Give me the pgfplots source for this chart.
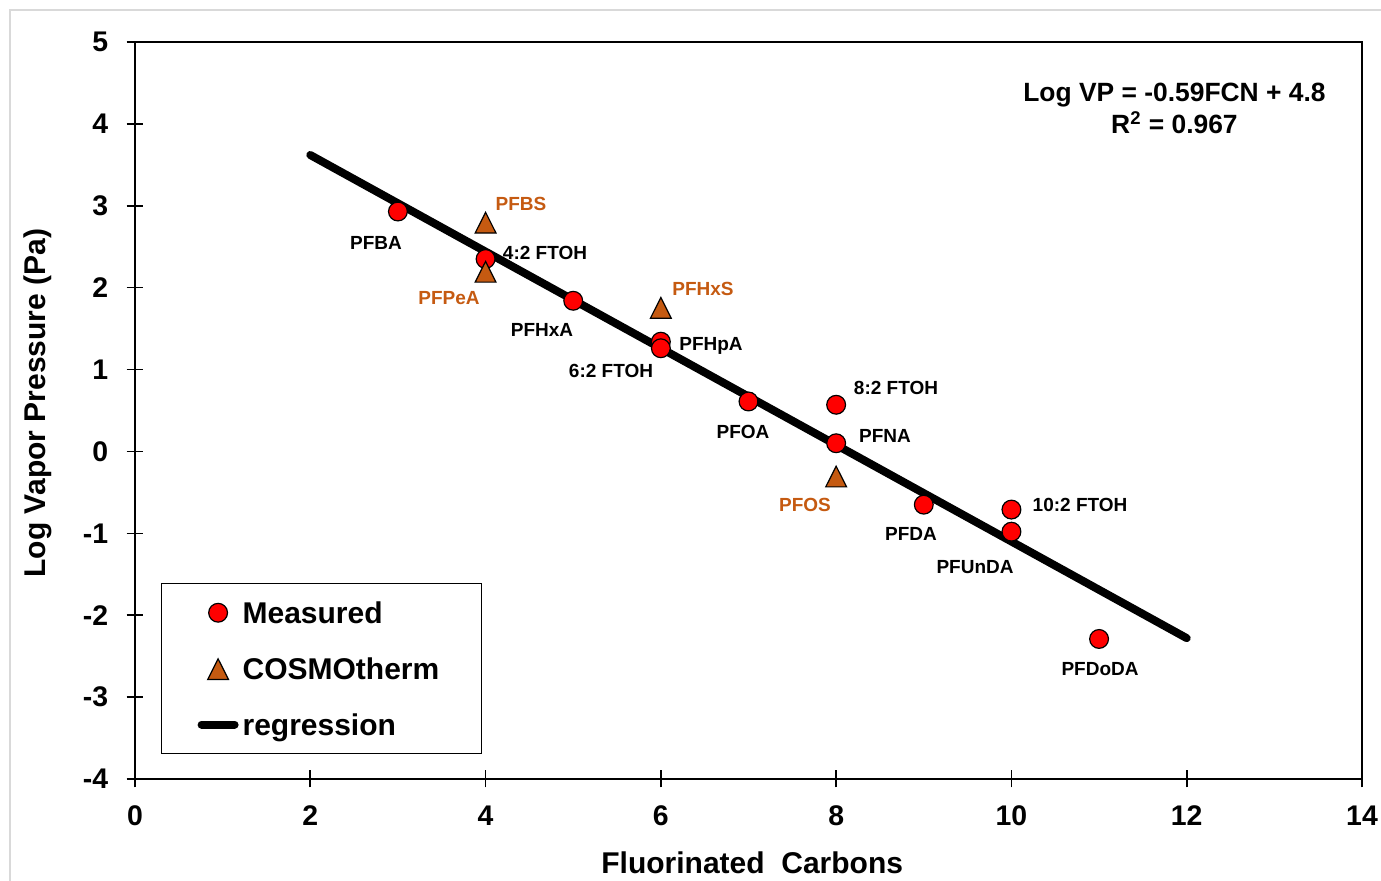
\documentclass[border=0pt]{standalone}
\usepackage{pgfplots}
\pgfplotsset{compat=1.18}
\usepackage{fontspec}
\setmainfont{Liberation Sans}
\definecolor{cosmo}{RGB}{197,90,17}
\definecolor{mred}{RGB}{255,0,0}
\tikzset{
  lab/.style={font=\fontsize{9.5}{11}\selectfont\bfseries, inner sep=0pt, text height=6.8pt, text depth=0pt, anchor=center},
  eqn/.style={font=\fontsize{13.2}{16}\selectfont\bfseries, inner sep=0pt, text height=9.45pt, text depth=0pt, anchor=center},
}
\pgfplotsset{
  marklegend/.style={legend image code/.code={\path[draw=none,fill=none] (0pt,0pt) -- (20.5pt,0pt);
    \draw[mark repeat=2,mark phase=2,##1] plot coordinates {(0pt,0pt) (10.25pt,0pt) (20.5pt,0pt)};}},
  linelegend/.style={legend image code/.code={\draw[##1] (2pt,0pt) -- (18.5pt,0pt);}},
}

\begin{document}
\begin{tikzpicture}
\useasboundingbox (0,0) rectangle (690.5pt,440.5pt);
\draw[black!15, line width=1pt] (5pt,0) -- (5pt,435.5pt) -- (690.5pt,435.5pt);
\begin{axis}[
  at={(67.5pt,51pt)}, anchor=south west,
  scale only axis, width=613.5pt, height=368.5pt,
  xmin=0, xmax=14, ymin=-4, ymax=5,
  xtick={0,2,...,14}, ytick={-4,-3,...,5},
  tick pos=left, tick align=center, major tick length=8.5pt,
  axis line style={line width=0.8pt, black},
  every tick/.style={black, line width=0.8pt},
  /pgf/number format/assume math mode=true,
  tick label style={font=\fontsize{14.2}{17}\selectfont\bfseries},
  xticklabel style={inner sep=0pt, anchor=north, yshift=-9pt},
  yticklabel style={inner sep=0pt, anchor=east, xshift=-9pt},
  every axis x label/.style={at={(axis description cs:0.503,0)}, anchor=base, yshift=-47.5pt, font=\fontsize{15}{18}\selectfont\bfseries},
  every axis y label/.style={at={(axis description cs:-0.0733,0.51)}, rotate=90, anchor=base, font=\fontsize{15}{18}\selectfont\bfseries},
  xlabel={Fluorinated\ \ Carbons},
  ylabel={Log Vapor Pressure (Pa)},
  legend style={
    at={(0.0212,0.266)}, anchor=north west,
    draw=black, line width=0.6pt, fill=white,
    font=\fontsize{15}{18}\selectfont\bfseries,
    inner xsep=18pt, inner ysep=9pt,
    row sep=16.75pt, column sep=2pt,
    nodes={inner sep=0pt, text height=11pt, text depth=0.2pt},
  },
  legend cell align=left,
  clip=false,
]
% regression line (drawn first, below markers)
\addplot[forget plot, black, line width=4pt, line cap=round] coordinates {(2,3.62) (12,-2.28)};

% measured
\addplot[only marks, mark=*, mark size=4.7pt,
  mark options={draw=black, fill=mred, line width=0.6pt}, marklegend]
coordinates {
(3,2.93) (4,2.35) (5,1.84) (6,1.34) (6,1.26) (7,0.61) (8,0.57) (8,0.10)
(9,-0.65) (10,-0.71) (10,-0.98) (11,-2.29)
};
\addlegendentry{Measured}

% COSMOtherm
\addplot[only marks, mark=triangle*, mark size=6pt,
  mark options={draw=black, fill=cosmo, line width=0.6pt, yscale=1.15, yshift=-1.725pt}, marklegend]
coordinates {
(4,2.80) (4,2.20) (6,1.76) (8,-0.30)
};
\addlegendentry{COSMOtherm\rule{3.2pt}{0pt}}

\addlegendimage{black, line width=4pt, line cap=round, linelegend}
\addlegendentry{regression}

% point labels
\node[lab] at (axis cs:2.750,2.545) {PFBA};
\node[lab, text=cosmo] at (axis cs:4.404,3.022) {PFBS};
\node[lab] at (axis cs:4.678,2.423) {4:2 FTOH};
\node[lab, text=cosmo] at (axis cs:3.583,1.874) {PFPeA};
\node[lab] at (axis cs:4.644,1.483) {PFHxA};
\node[lab, text=cosmo] at (axis cs:6.481,1.984) {PFHxS};
\node[lab] at (axis cs:6.572,1.312) {PFHpA};
\node[lab] at (axis cs:5.431,0.982) {6:2 FTOH};
\node[lab] at (axis cs:8.683,0.775) {8:2 FTOH};
\node[lab] at (axis cs:6.937,0.237) {PFOA};
\node[lab] at (axis cs:8.558,0.189) {PFNA};
\node[lab, text=cosmo] at (axis cs:7.645,-0.654) {PFOS};
\node[lab] at (axis cs:8.854,-1.008) {PFDA};
\node[lab] at (axis cs:10.783,-0.654) {10:2 FTOH};
\node[lab] at (axis cs:9.585,-1.411) {PFUnDA};
\node[lab] at (axis cs:11.011,-2.657) {PFDoDA};

% equation
\node[eqn] at (axis cs:11.86,4.389) {Log VP = -0.59FCN + 4.8};
\node[eqn] at (axis cs:11.86,3.999) {R\textsuperscript{2} = 0.967};
\end{axis}
\end{tikzpicture}
\end{document}
